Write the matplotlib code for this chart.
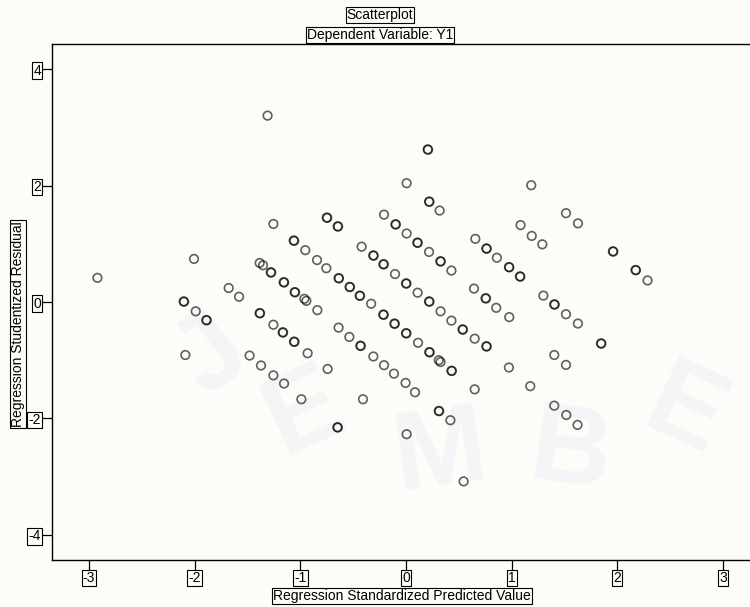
import matplotlib
matplotlib.use("Agg")
import matplotlib.pyplot as plt

# Standardized predicted values (x) and studentized residuals (y).
# Repeated pairs are tied cases that plot on top of each other.
pred = [
    -1.31, -1.255, -1.063, -1.058, -2.006, -2.92, -1.385, -1.353, -1.28, -1.275,
    -1.158, -1.153, -1.054, -1.049, -1.678, -1.58, -2.104, -2.100, -1.99, -1.89,
    -1.886, -1.385, -1.381, -1.255, -1.167, -1.163, -1.06, -1.055,
    0.205, 0.209, 0.006, 0.218, 0.222, 0.318, -0.208, -0.10, -0.096, 0.006,
    0.107, 0.111, 0.218, 0.325, 0.329, 0.43, -0.75, -0.745, -0.647, -0.642,
    -0.953, -0.842, -0.754, -0.638, -0.634, -0.534, -0.530, -0.439, -0.434, -0.33,
    -0.42, -0.31, -0.306, -0.214, -0.210, -0.104, 0.0, 0.004, 0.11, 0.218,
    0.222, 0.327, 0.43, 0.535, 0.539, 0.65, 0.76, 0.764, 0.656, 0.76,
    0.764, 0.86, 0.643, 0.753, 0.757, 0.854, -0.962, -0.943, -0.839, -0.638,
    -0.536, -0.432, -0.428, 1.185, 1.514, 1.627, 1.084, 1.19, 1.29, 0.974,
    0.978, 1.078, 1.082, 1.958, 1.962, 2.172, 2.176, 2.286, 0.977, 1.30,
    1.403, 1.407, 1.514, 1.627, 1.845, 1.849, -2.088, -1.48, -1.372, -1.255,
    -1.154, -0.99, -0.931, -0.742, -0.65, -0.645, -0.407, -0.309, -0.208, -0.114,
    -0.004, 0.085, -0.215, -0.211, -0.11, -0.106, 0.0, 0.004, 0.114, 0.22,
    0.224, 0.31, 0.327, 0.43, 0.434, 0.65, 0.31, 0.314, 0.42, 0.006,
    0.545, 0.974, 1.176, 1.403, 1.514, 1.403, 1.517, 1.623,
]
resid = [
    3.20, 1.34, 1.056, 1.05, 0.74, 0.415, 0.67, 0.63, 0.51, 0.505,
    0.34, 0.335, 0.17, 0.165, 0.24, 0.09, 0.01, 0.005, -0.16, -0.31,
    -0.315, -0.19, -0.195, -0.39, -0.52, -0.525, -0.68, -0.685,
    2.62, 2.615, 2.04, 1.725, 1.72, 1.57, 1.50, 1.335, 1.33, 1.176,
    1.02, 1.015, 0.86, 0.70, 0.695, 0.54, 1.45, 1.445, 1.30, 1.295,
    0.89, 0.72, 0.58, 0.41, 0.405, 0.26, 0.255, 0.11, 0.105, -0.03,
    0.95, 0.80, 0.795, 0.65, 0.645, 0.48, 0.32, 0.315, 0.16, 0.01,
    0.005, -0.16, -0.32, -0.47, -0.475, -0.63, -0.76, -0.765, 1.085, 0.92,
    0.915, 0.76, 0.23, 0.065, 0.06, -0.10, 0.055, 0.02, -0.14, -0.44,
    -0.60, -0.75, -0.755, 2.005, 1.525, 1.35, 1.32, 1.135, 0.99, 0.60,
    0.595, 0.44, 0.435, 0.87, 0.865, 0.55, 0.545, 0.37, -0.26, 0.11,
    -0.04, -0.045, -0.21, -0.37, -0.71, -0.715, -0.91, -0.92, -1.09, -1.26,
    -1.40, -1.67, -0.88, -1.15, -2.15, -2.155, -1.67, -0.935, -1.085, -1.23,
    -1.39, -1.55, -0.215, -0.22, -0.37, -0.375, -0.535, -0.54, -0.70, -0.86,
    -0.865, -1.00, -1.03, -1.18, -1.185, -1.50, -1.87, -1.875, -2.03, -2.27,
    -3.08, -1.125, -1.445, -0.91, -1.08, -1.78, -1.94, -2.11,
]

x_ticks = [-3, -2, -1, 0, 1, 2, 3]
y_ticks = [-4, -2, 0, 2, 4]

# faint lettering behind the plot: letter, centre (px from top-left), tilt
mark_letters = ['J', 'E', 'M', 'B', 'E']
mark_pos = [(212, 356), (305, 413), (440, 455), (570, 455), (684, 414)]
mark_rot = [38, 25, 8, -8, -25]

plt.rcParams['font.family'] = ['Liberation Sans Narrow', 'Liberation Sans', 'DejaVu Sans']
bg = '#fcfcf8'
box = dict(boxstyle='square,pad=0.08', facecolor='none', edgecolor='black', linewidth=0.8)

fig = plt.figure(figsize=(7.5, 6.07), dpi=100, facecolor=bg)
ax = fig.add_axes([52 / 750, 47 / 607, 708 / 750, 516 / 607], facecolor=bg)

for ch, (px, py), rot in zip(mark_letters, mark_pos, mark_rot):
    fig.text(px / 750, 1 - py / 607, ch, ha='center', va='center', rotation=rot,
             fontsize=80, fontweight='bold', family='Liberation Sans',
             color='#f4f5f7', zorder=0)

ax.set_zorder(1)
ax.patch.set_alpha(0)
ax.scatter(pred, resid, s=38, facecolors='none', edgecolors='black',
           linewidths=1.2, alpha=0.62)

ax.set_xlim(-3.35, 3.35)
ax.set_ylim(-4.43, 4.43)
ax.set_xticks(x_ticks)
ax.set_yticks(y_ticks)
ax.set_xticklabels([str(v) for v in x_ticks])
ax.set_yticklabels([str(v) for v in y_ticks])
ax.tick_params(axis='both', direction='out', length=7, width=0.9, colors='black',
               labelsize=10, pad=1)
for lbl in ax.get_xticklabels() + ax.get_yticklabels():
    lbl.set_bbox(box)
for side in ['left', 'bottom', 'top', 'right']:
    ax.spines[side].set_linewidth(1.0)

fig.text(380 / 750, 1 - 15 / 607, 'Scatterplot', ha='center', va='center',
         fontsize=10, bbox=box)
fig.text(380 / 750, 1 - 35 / 607, 'Dependent Variable: Y1', ha='center', va='center',
         fontsize=10, bbox=box)
fig.text(402 / 750, 1 - 596 / 607, 'Regression Standardized Predicted Value',
         ha='center', va='center', fontsize=10, bbox=box)
fig.text(18 / 750, 1 - 324 / 607, 'Regression Studentized Residual',
         ha='center', va='center', rotation=90, fontsize=10, bbox=box)

fig.savefig('out.png', dpi=100, facecolor=bg)
